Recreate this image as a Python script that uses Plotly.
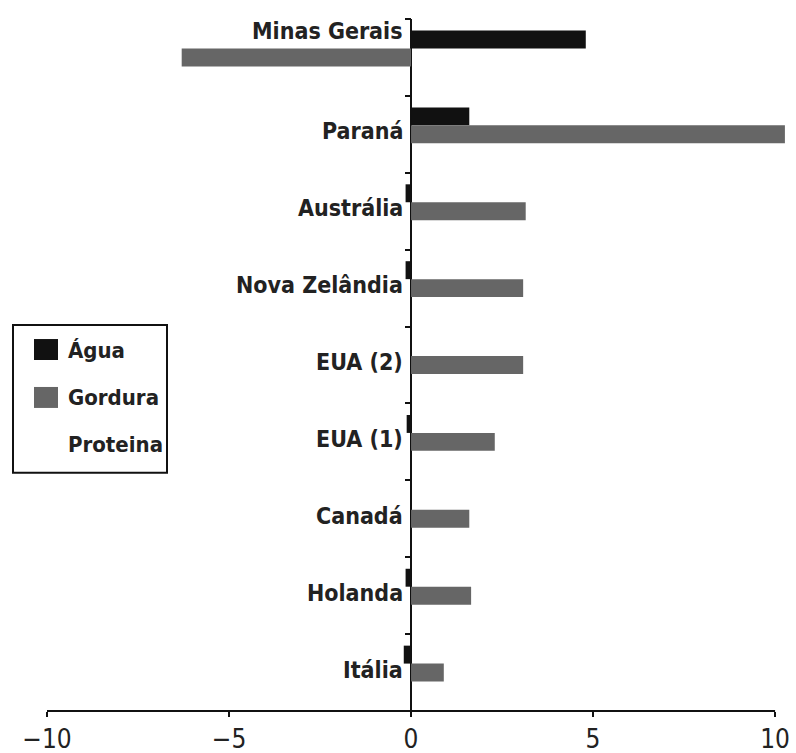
import plotly.graph_objects as go

# ---- data ----
categories = ["Minas Gerais", "Paraná", "Austrália", "Nova Zelândia", "EUA (2)",
              "EUA (1)", "Canadá", "Holanda", "Itália"]
agua = [4.8, 1.6, -0.15, -0.15, 0.0, -0.12, 0.0, -0.15, -0.2]
gordura = [-6.3, 10.27, 3.15, 3.08, 3.08, 2.3, 1.6, 1.65, 0.9]
proteina = [0, 0, 0, 0, 0, 0, 0, 0, 0]
series_names = ["Água", "Gordura", "Proteina"]
x_tickvals = [-10, -5, 0, 5, 10]
x_ticktext = ["−10", "−5", "0", "5", "10"]

# ---- style ----
W, H = 796, 753
# plot area in page pixels: x 47..786, y 18.5..711.5
ML = 47
MR = W - 786
MT = 18.5
MB = H - 711.5
XR = [-10, 10.3]
colors = ["#111111", "#666666", "#ffffff"]
FONT = "Liberation Sans Narrow, DejaVu Sans Condensed, Arial Narrow, sans-serif"

pw = W - ML - MR
ph = H - MT - MB


def px_x(px):
    return (px - ML) / pw


def px_y(py):
    return (H - MB - py) / ph


fig = go.Figure()
for name, vals, col in zip(series_names, [agua, gordura, proteina], colors):
    fig.add_trace(go.Bar(
        y=categories, x=vals, name=name, orientation="h",
        marker=dict(color=col, line=dict(width=0)),
        showlegend=False,
    ))

annotations = []
for i, cat in enumerate(categories):
    annotations.append(dict(
        x=0, y=cat, xref="x", yref="y", text="<b>%s</b>" % cat,
        showarrow=False, xanchor="right", yanchor="middle",
        xshift=-6, yshift=26 if i == 0 else 3,
        font=dict(family=FONT, size=23, color="#222"),
    ))

# manual legend
shapes = [
    dict(type="rect", xref="paper", yref="paper",
         x0=px_x(13), x1=px_x(167), y0=px_y(473), y1=px_y(325),
         line=dict(color="#111", width=2), fillcolor="white", layer="above"),
    dict(type="line", xref="x", yref="paper", x0=-10, x1=10, y0=0, y1=0,
         line=dict(color="#111", width=2)),
]
leg_y = [350, 398, 445]
for name, col, ly in zip(series_names, colors, leg_y):
    if col.lower() != "#ffffff":
        shapes.append(dict(type="rect", xref="paper", yref="paper",
                           x0=px_x(34), x1=px_x(58), y0=px_y(ly + 10), y1=px_y(ly - 11),
                           line=dict(width=0), fillcolor=col, layer="above"))
    annotations.append(dict(
        x=px_x(66), y=px_y(ly), xref="paper", yref="paper", text="<b>%s</b>" % name,
        showarrow=False, xanchor="left", yanchor="middle",
        font=dict(family=FONT, size=22, color="#222"),
    ))

fig.update_layout(
    width=W, height=H,
    margin=dict(l=ML, r=MR, t=MT, b=MB, pad=0, autoexpand=False),
    paper_bgcolor="white", plot_bgcolor="white",
    barmode="group", bargap=0.3, bargroupgap=0,
    xaxis=dict(range=XR, tickvals=x_tickvals, ticktext=x_ticktext,
               showgrid=False, showline=False, automargin=False,
               zeroline=True, zerolinecolor="#111", zerolinewidth=2,
               ticks="outside", ticklen=5, tickwidth=2, tickcolor="#111",
               tickfont=dict(family=FONT, size=26, color="#222"),
               fixedrange=True),
    yaxis=dict(type="category", categoryorder="array", categoryarray=categories,
               autorange="reversed", showticklabels=False, showgrid=False,
               showline=False, zeroline=False, automargin=False,
               ticks="outside", tickson="boundaries", ticklen=6, tickwidth=2,
               tickcolor="#111", anchor="free",
               position=(0 - XR[0]) / (XR[1] - XR[0]), fixedrange=True),
    shapes=shapes,
    annotations=annotations,
)

fig.write_html(
    "out.html",
    config={"displayModeBar": False},
    post_script="document.body.style.margin='0px';"
                "document.body.style.overflow='hidden';"
                "document.documentElement.style.overflow='hidden';",
)
